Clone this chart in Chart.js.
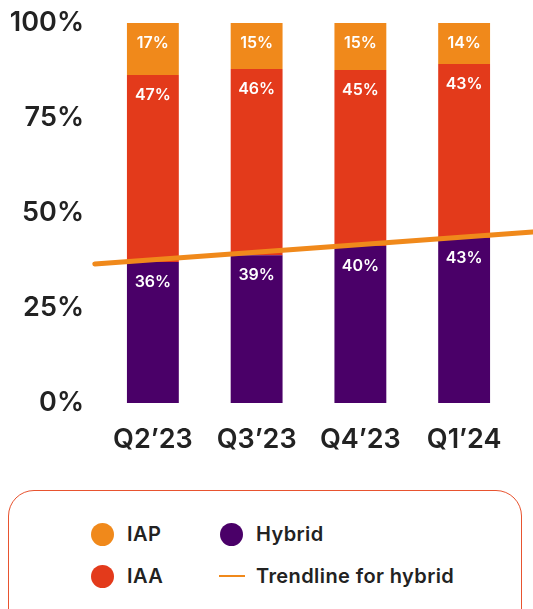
<!DOCTYPE html>
<html>
<head>
<meta charset="utf-8">
<script src="https://cdn.jsdelivr.net/npm/chart.js@4/dist/chart.umd.min.js"></script>
<style>
  html, body { margin: 0; padding: 0; background: #fff; overflow: hidden; }
  body { width: 533px; height: 609px; position: relative; font-family: Inter, "Noto Sans", sans-serif; }
  #wrap { position: absolute; left: 0; top: 0; width: 533px; height: 470px; }
  #legendBox {
    position: absolute; left: 8px; top: 490px; width: 514px; height: 150px;
    border: 1.5px solid #E8532F; border-radius: 26px; box-sizing: border-box;
  }
  .item { position: absolute; height: 24px; display: flex; align-items: center;
    font-size: 20px; font-weight: 600; letter-spacing: 0.4px; color: #222; white-space: nowrap; }
  .dot { width: 23px; height: 23px; border-radius: 50%; margin-right: 13px; }
  .dash { width: 26px; height: 2.5px; margin-right: 11px; }
</style>
</head>
<body>
<div id="wrap"><canvas id="chart1" width="533" height="470"></canvas></div>
<div id="legendBox"></div>
<script>
let quarters = ['Q2\u201923', 'Q3\u201923', 'Q4\u201923', 'Q1\u201924'];
let hybridValues = [37.1, 38.9, 41.3, 43.4];
let iaaValues = [49.2, 49.0, 46.3, 45.8];
let iapValues = [13.7, 12.1, 12.4, 10.8];
let hybridLabels = ['36%', '39%', '40%', '43%'];
let iaaLabels = ['47%', '46%', '45%', '43%'];
let iapLabels = ['17%', '15%', '15%', '14%'];
let trendX = [-0.56, 3.66];
let trendY = [36.6, 45.0];
let yTicks = [0, 25, 50, 75, 100];

let colors = { iap: '#F0891B', iaa: '#E33A1B', hybrid: '#4A0068', trend: '#F0891B' };

// white % labels near the top of each segment
let segmentLabels = {
    id: 'segmentLabels',
    afterDatasetsDraw(chart) {
        let ctx = chart.ctx;
        ctx.save();
        ctx.fillStyle = '#fff';
        ctx.font = '600 16px Inter, "Noto Sans", sans-serif';
        ctx.textAlign = 'center';
        ctx.textBaseline = 'middle';
        chart.data.datasets.forEach((ds, i) => {
            if (!ds.segLabels) return;
            chart.getDatasetMeta(i).data.forEach((bar, j) => {
                let top = Math.min(bar.y, bar.base);
                ctx.fillText(ds.segLabels[j], bar.x, top + 20);
            });
        });
        ctx.restore();
    }
};

let ctx1 = document.getElementById('chart1').getContext('2d');
let chart1 = new Chart(ctx1, {
    type: 'bar',
    data: {
        labels: quarters,
        datasets: [
            {
                label: 'Trendline for hybrid',
                type: 'line',
                xAxisID: 'xt',
                data: trendX.map((x, i) => ({ x: x, y: trendY[i] })),
                borderColor: colors.trend,
                borderWidth: 5,
                borderCapStyle: 'round',
                pointRadius: 0,
                clip: false,
                order: 0
            },
            {
                label: 'Hybrid',
                data: hybridValues,
                segLabels: hybridLabels,
                backgroundColor: colors.hybrid,
                stack: 's',
                order: 1
            },
            {
                label: 'IAA',
                data: iaaValues,
                segLabels: iaaLabels,
                backgroundColor: colors.iaa,
                stack: 's',
                order: 1
            },
            {
                label: 'IAP',
                data: iapValues,
                segLabels: iapLabels,
                backgroundColor: colors.iap,
                stack: 's',
                order: 1
            }
        ]
    },
    options: {
        responsive: false,
        animation: false,
        layout: { padding: { top: 23, right: 17, left: 0, bottom: 0 } },
        datasets: { bar: { categoryPercentage: 1, barPercentage: 0.5, grouped: false } },
        plugins: { legend: { display: false }, tooltip: { enabled: false } },
        scales: {
            x: {
                stacked: true,
                grid: { display: false, drawTicks: false },
                border: { display: false },
                ticks: { color: '#222', padding: 21, font: { family: 'Inter', size: 27, weight: '600' } },
                afterFit: s => { s.height = 67; s.paddingLeft = 0; s.paddingRight = 0; }
            },
            xt: {
                type: 'linear',
                display: false,
                offset: false,
                min: -0.5,
                max: 3.5
            },
            y: {
                stacked: true,
                min: 0,
                max: 100,
                afterBuildTicks: s => { s.ticks = yTicks.map(v => ({ value: v })); },
                grid: { display: false, drawTicks: false },
                border: { display: false },
                ticks: { color: '#222', padding: 17, callback: v => v + '%', font: { family: 'Inter', size: 27, weight: '600' } },
                afterFit: s => { s.width = 101; s.paddingTop = 0; s.paddingBottom = 0; }
            }
        }
    },
    plugins: [segmentLabels]
});

// legend
let legendItems = [
    { name: 'IAP', color: colors.iap, kind: 'dot', left: 82, top: 31 },
    { name: 'Hybrid', color: colors.hybrid, kind: 'dot', left: 211, top: 31 },
    { name: 'IAA', color: colors.iaa, kind: 'dot', left: 82, top: 73 },
    { name: 'Trendline for hybrid', color: colors.trend, kind: 'dash', left: 210, top: 73 }
];
let box = document.getElementById('legendBox');
legendItems.forEach(it => {
    let d = document.createElement('div');
    d.className = 'item';
    d.style.left = it.left + 'px';
    d.style.top = it.top + 'px';
    let mark = document.createElement('span');
    mark.className = it.kind;
    mark.style.background = it.color;
    d.appendChild(mark);
    d.appendChild(document.createTextNode(it.name));
    box.appendChild(d);
});
</script>
</body>
</html>
